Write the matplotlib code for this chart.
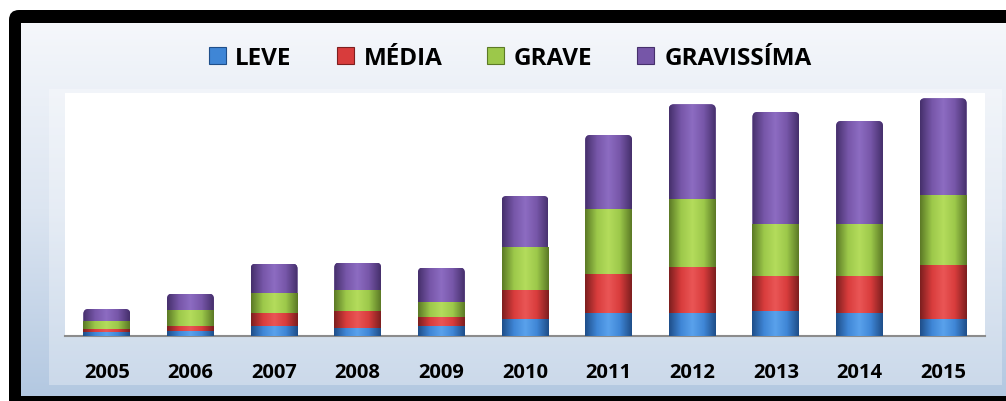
import numpy as np
import matplotlib
matplotlib.use("Agg")
import matplotlib.pyplot as plt
from matplotlib.patches import FancyBboxPatch, Rectangle, Patch
from matplotlib.colors import LinearSegmentedColormap
from matplotlib.transforms import IdentityTransform

# dados (alturas, unidades arbitrarias)
anos = ['2005', '2006', '2007', '2008', '2009', '2010', '2011', '2012', '2013', '2014', '2015']
leve = [4, 5, 10, 8.4, 10, 17.4, 23.4, 23.4, 25, 23.4, 16.7]
media = [3, 5, 13.3, 16.6, 9, 28.6, 38.3, 45.6, 35, 36.6, 54.3]
grave = [8, 15.6, 20, 21, 15.4, 43.4, 65, 68.4, 52.4, 51.7, 70]
gravissima = [12, 16.7, 29, 27.4, 34, 50.6, 74.3, 94.3, 111.6, 103.3, 96.7]

series = ['LEVE', 'MÉDIA', 'GRAVE', 'GRAVISSÍMA']
cores = ['#3f86d6', '#d83c3c', '#9cc84a', '#7656a8']
escuros = ['#1f4f8a', '#7e1f1f', '#5c7a26', '#46306c']
claros = ['#5aa2ec', '#ea5656', '#b4dc5c', '#8d6cc2']

plt.rcParams['font.family'] = ['Open Sans', 'DejaVu Sans']

fig = plt.figure(figsize=(10.06, 4.02), dpi=100)
fig.patch.set_facecolor('white')

# fundo com moldura preta e degradê azul claro
bg = fig.add_axes([0, 0, 1, 1], zorder=0)
borda = FancyBboxPatch((9, -40), 1060, 431, boxstyle='round,pad=0,rounding_size=10',
                       facecolor='black', edgecolor='none', zorder=1)
bg.add_patch(borda)
grad = np.linspace(0, 1, 256).reshape(-1, 1)
cmap_bg = LinearSegmentedColormap.from_list('bg', ['#b3c8e1', '#dce5f1', '#f5f7fb'])
bg.imshow(grad, cmap=cmap_bg, extent=[21, 1010, 5, 378], origin='lower',
          aspect='auto', zorder=2)
bg.add_patch(Rectangle((49, 16), 953, 296, facecolor='white', alpha=0.3,
                       edgecolor='none', zorder=3))
bg.set_xlim(0, 1006)
bg.set_ylim(0, 402)
bg.axis('off')

ax = fig.add_axes([65 / 1006, 65 / 402, 920 / 1006, 243 / 402], zorder=1)
ax.set_facecolor('white')
ax.set_xlim(-0.5, len(anos) - 0.5)
ax.set_ylim(0, 243)

x = np.arange(len(anos))
base = np.zeros(len(anos))
largura = 0.56
todas = [leve, media, grave, gravissima]
for k, (nome, vals, c, cd, cl) in enumerate(zip(series, todas, cores, escuros, claros)):
    barras = ax.bar(x, vals, largura, bottom=base, color=c, label=nome, zorder=2)
    cm_bar = LinearSegmentedColormap.from_list('g' + nome, [cd, c, cl, c, cd])
    for b in barras:
        x0, y0 = b.get_x(), b.get_y()
        im = ax.imshow(np.linspace(0, 1, 64).reshape(1, -1), cmap=cm_bar,
                       extent=[x0, x0 + b.get_width(), y0, y0 + b.get_height()],
                       aspect='auto', zorder=3)
        im.set_clip_path(b)
        if k == len(todas) - 1:
            # topo arredondado do cilindro
            (px0, py0), (px1, py1) = ax.transData.transform([(x0, y0), (x0 + b.get_width(), y0 + b.get_height())])
            topo = FancyBboxPatch((px0, py0 - 30), px1 - px0, py1 - py0 + 30,
                                  boxstyle='round,pad=0,rounding_size=5',
                                  transform=IdentityTransform())
            b.set_clip_path(topo)
            im.set_clip_path(topo)
    base += np.array(vals)

ax.set_xlim(-0.5, len(anos) - 0.5)
ax.set_ylim(0, 243)
ax.set_yticks([])
ax.set_xticks(x)
ax.set_xticklabels(anos, fontsize=14.5, fontweight='bold')
ax.tick_params(axis='x', length=0, pad=19)
for s in ['top', 'right', 'left']:
    ax.spines[s].set_visible(False)
ax.spines['bottom'].set_color('#8c8c8c')
ax.spines['bottom'].set_linewidth(1.5)

handles = [Patch(facecolor=c, edgecolor=cd, linewidth=0.8) for c, cd in zip(cores, escuros)]
fig.legend(handles, series, loc='center', bbox_to_anchor=(510 / 1006, 1 - 59 / 402),
           ncol=4, frameon=False, prop={'size': 17.5, 'weight': 'bold'},
           handlelength=0.7, handleheight=0.7, handletextpad=0.4, columnspacing=1.85)

fig.savefig('out.png', dpi=100)
